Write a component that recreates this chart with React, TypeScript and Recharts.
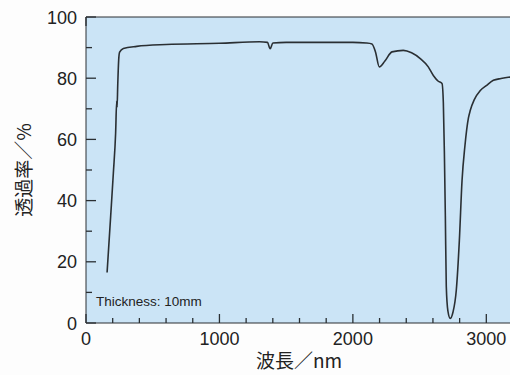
import { LineChart, Line, XAxis, YAxis, CartesianGrid } from 'recharts';

// transmission spectrum, thickness 10mm
const wavelengths = [
  158, 185, 205, 222, 230, 233, 238, 245, 252, 280, 380, 600, 1000, 1300, 1360, 1380, 1400,
  1500, 2000, 2100, 2143, 2170, 2198, 2240, 2293, 2378, 2440, 2505, 2565, 2603, 2640, 2668,
  2678, 2686, 2693, 2700, 2712, 2730, 2750, 2775, 2798, 2818, 2840, 2866, 2880, 2910, 2955,
  3000, 3053, 3110, 3165, 3200,
];
const transmittance = [
  16.5, 35, 49, 62, 72.5, 70.5, 78, 86, 88.5, 89.7, 90.4, 91.0, 91.4, 91.9, 91.7, 89.6, 91.5,
  91.7, 91.7, 91.5, 91.2, 88.5, 83.7, 85.6, 88.6, 89.1, 88.3, 86.4, 83.7, 80.9, 79.0, 78.3,
  72, 55, 35, 12, 4, 1.5, 3.5, 10.7, 27, 46.5, 58, 67, 69.5, 73, 76, 77.6, 79.3, 79.9,
  80.3, 80.4,
];

const xTicks = [0, 200, 400, 600, 800, 1000, 1200, 1400, 1600, 1800, 2000, 2200, 2400, 2600, 2800, 3000, 3200];
const xLabels = [0, 1000, 2000, 3000];
const yTicks = [0, 10, 20, 30, 40, 50, 60, 70, 80, 90, 100];
const yLabels = [0, 20, 40, 60, 80, 100];

const data = wavelengths.map((w, i) => ({ w, t: transmittance[i] }));

const ink = '#2a2f33';
const font = '"Liberation Sans", Arial, sans-serif';
const cjk = '"Noto Sans CJK JP", "Liberation Sans", sans-serif';

const BottomTick = (p: any) => {
  const { x, y, payload } = p;
  const major = xLabels.includes(payload.value);
  return (
    <g>
      <path d={`M${x},${y}L${x},${y - (major ? 9 : 5)}`} stroke={ink} strokeWidth={1.3} fill="none" />
      {major && (
        <text x={x} y={y + 22} textAnchor="middle" fontSize={18} fontFamily={font} fill="#222">
          {payload.value}
        </text>
      )}
    </g>
  );
};

const TopTick = (p: any) => {
  const { x, y, payload } = p;
  const major = xLabels.includes(payload.value);
  return <path d={`M${x},${y}L${x},${y + (major ? 9 : 5)}`} stroke={ink} strokeWidth={1.3} fill="none" />;
};

const LeftTick = (p: any) => {
  const { x, y, payload } = p;
  const major = yLabels.includes(payload.value);
  return (
    <g>
      <path d={`M${x},${y}L${x + (major ? 10 : 6)},${y}`} stroke={ink} strokeWidth={1.3} fill="none" />
      {major && (
        <text x={x - 9} y={y + 6.5} textAnchor="end" fontSize={18} fontFamily={font} fill="#222">
          {payload.value}
        </text>
      )}
    </g>
  );
};

const RightTick = (p: any) => {
  const { x, y, payload } = p;
  const major = yLabels.includes(payload.value);
  return <path d={`M${x},${y}L${x - (major ? 10 : 6)},${y}`} stroke={ink} strokeWidth={1.3} fill="none" />;
};

export default function App() {
  return (
    <div style={{ position: 'absolute', left: 0, top: 0, width: 510, height: 375, overflow: 'hidden', background: '#fdfdfd' }}>
      <LineChart width={520} height={375} data={data} margin={{ top: 16, right: 6, bottom: 22, left: 26 }}>
        <CartesianGrid xAxisId="b" yAxisId="l" horizontal={false} vertical={false} fill="#cbe4f6" />
        <XAxis
          xAxisId="b"
          dataKey="w"
          type="number"
          domain={[0, 3200]}
          ticks={xTicks}
          interval={0}
          height={30}
          tickSize={0}
          tickMargin={0}
          tickLine={false}
          stroke={ink}
          tick={(p: any) => <BottomTick {...p} />}
        />
        <XAxis
          xAxisId="t"
          orientation="top"
          type="number"
          domain={[0, 3200]}
          ticks={xTicks}
          interval={0}
          height={1}
          tickSize={0}
          tickMargin={0}
          tickLine={false}
          stroke={ink}
          tick={(p: any) => <TopTick {...p} />}
        />
        <YAxis
          yAxisId="l"
          type="number"
          domain={[0, 100]}
          ticks={yTicks}
          interval={0}
          width={60}
          tickSize={0}
          tickMargin={0}
          tickLine={false}
          stroke={ink}
          tick={(p: any) => <LeftTick {...p} />}
        />
        <YAxis
          yAxisId="r"
          orientation="right"
          type="number"
          domain={[0, 100]}
          ticks={yTicks}
          interval={0}
          width={1}
          tickSize={0}
          tickMargin={0}
          tickLine={false}
          stroke={ink}
          tick={(p: any) => <RightTick {...p} />}
        />
        <Line
          xAxisId="b"
          yAxisId="l"
          dataKey="t"
          type="monotone"
          stroke={ink}
          strokeWidth={1.6}
          dot={false}
          isAnimationActive={false}
        />
        <text x={96} y={306} fontSize={13.5} fontFamily={font} fill="#222">
          Thickness: 10mm
        </text>
        <text
          x={22}
          y={170}
          transform="rotate(-90 22 170)"
          textAnchor="middle"
          dominantBaseline="central"
          fontSize={19}
          fontFamily={cjk}
          fill="#222"
        >
          透過率／%
        </text>
        <text x={299} y={368} textAnchor="middle" fontSize={19} fontFamily={cjk} fill="#222">
          波長／nm
        </text>
      </LineChart>
    </div>
  );
}
